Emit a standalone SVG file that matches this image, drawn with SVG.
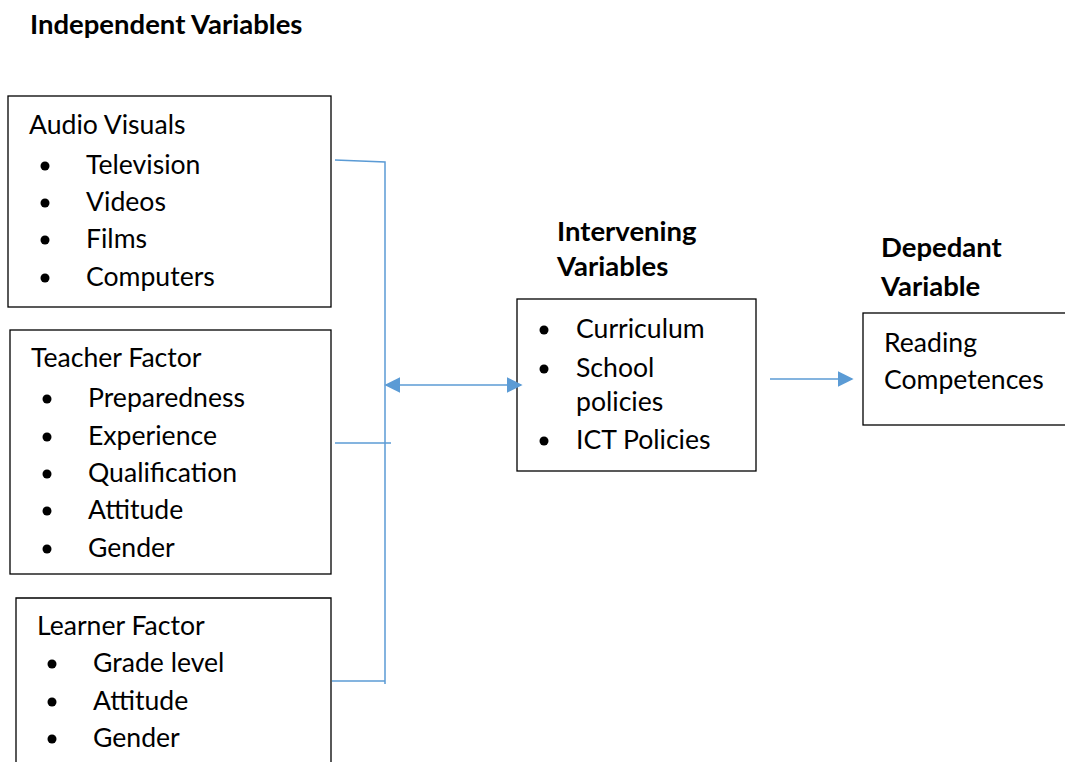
<svg xmlns="http://www.w3.org/2000/svg" width="1065" height="762" viewBox="0 0 1065 762">
<defs>
<style>
text{font-family:Lato,"Open Sans","Liberation Sans",sans-serif;font-size:26.6px;fill:#000}
.b{font-weight:bold;font-size:27.5px}
.box{fill:#fff;stroke:#000;stroke-width:1.3}
.c{stroke:#5b9bd5;stroke-width:1.5;fill:none}
</style>
<marker id="ah" viewBox="0 0 10 10" refX="9" refY="5" markerWidth="16" markerHeight="16" markerUnits="userSpaceOnUse" orient="auto-start-reverse"><path d="M0,0L10,5L0,10z" fill="#5b9bd5"/></marker>
</defs>
<rect width="1065" height="762" fill="#fff"/>
<text class="b" x="30" y="34">Independent Variables</text>
<g id="audio">
<rect class="box" x="8" y="96" width="323" height="211"/>
<text x="29" y="134">Audio Visuals</text>
<circle cx="45" cy="166" r="4.5"/><text x="86" y="174">Television</text>
<circle cx="45" cy="203" r="4.5"/><text x="86" y="211">Videos</text>
<circle cx="45" cy="240" r="4.5"/><text x="86" y="248">Films</text>
<circle cx="45" cy="278" r="4.5"/><text x="86" y="286">Computers</text>
</g>
<g id="teacher">
<rect class="box" x="10" y="330" width="321" height="244"/>
<text x="31" y="367">Teacher Factor</text>
<circle cx="47" cy="399" r="4.5"/><text x="88" y="407">Preparedness</text>
<circle cx="47" cy="437" r="4.5"/><text x="88" y="445">Experience</text>
<circle cx="47" cy="474" r="4.5"/><text x="88" y="482">Qualification</text>
<circle cx="47" cy="511" r="4.5"/><text x="88" y="519">Attitude</text>
<circle cx="47" cy="549" r="4.5"/><text x="88" y="557">Gender</text>
</g>
<g id="learner">
<path class="box" d="M16,762V598H331V762"/>
<text x="37" y="635">Learner Factor</text>
<circle cx="52" cy="664" r="4.5"/><text x="93" y="672">Grade level</text>
<circle cx="52" cy="702" r="4.5"/><text x="93" y="710">Attitude</text>
<circle cx="52" cy="739" r="4.5"/><text x="93" y="747">Gender</text>
</g>
<g id="intervening">
<text class="b" x="557" y="241">Intervening</text>
<text class="b" x="557" y="276">Variables</text>
<rect class="box" x="517" y="299" width="239" height="172"/>
<circle cx="544" cy="330" r="4.5"/><text x="576" y="338">Curriculum</text>
<circle cx="544" cy="369" r="4.5"/><text x="576" y="377">School</text>
<text x="576" y="411">policies</text>
<circle cx="544" cy="441" r="4.5"/><text x="576" y="449">ICT Policies</text>
</g>
<g id="dependent">
<text class="b" x="881" y="257">Depedant</text>
<text class="b" x="881" y="296">Variable</text>
<rect class="box" x="863" y="313" width="210" height="112"/>
<text x="884" y="352">Reading</text>
<text x="884" y="389">Competences</text>
</g>
<g id="connectors">
<path class="c" d="M335,160L385,162V684"/>
<path class="c" d="M335,443H391"/>
<path class="c" d="M332,681H385"/>
<path class="c" d="M386,385H521" marker-start="url(#ah)" marker-end="url(#ah)"/>
<path class="c" d="M770,379H852" marker-end="url(#ah)"/>
</g>
</svg>
